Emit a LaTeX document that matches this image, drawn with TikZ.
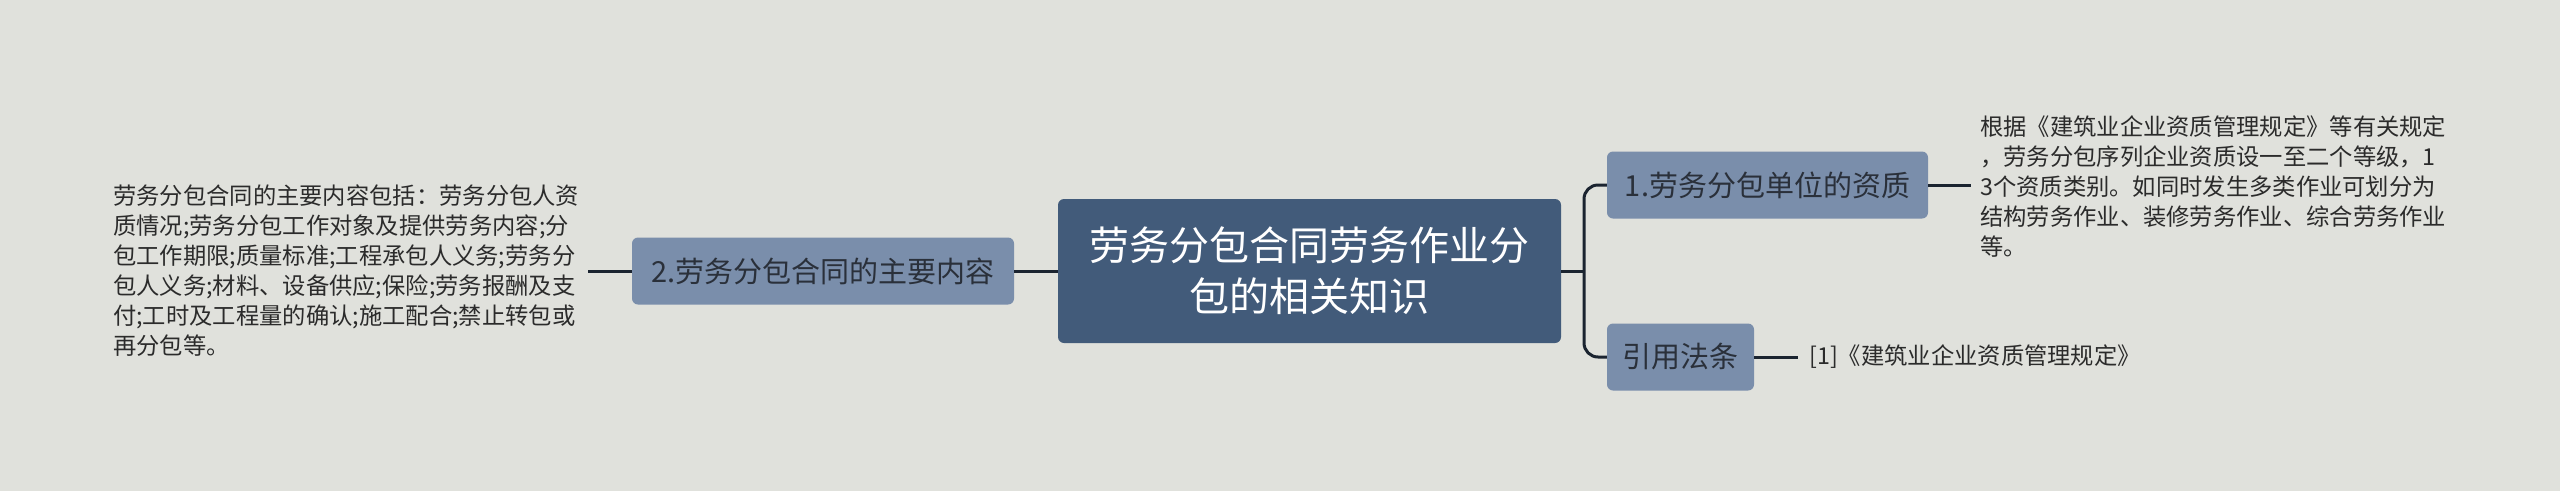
\documentclass[tikz,border=0pt]{standalone}
\usepackage{fontspec}
\newfontfamily\cjk{Noto Sans CJK SC}
\definecolor{bgc}{HTML}{E0E1DC}
\definecolor{rootc}{HTML}{425B7A}
\definecolor{subc}{HTML}{7A8EAB}
\definecolor{linec}{HTML}{1B2430}
\definecolor{txtc}{HTML}{2B2B2B}
\definecolor{subtxt}{HTML}{2A303A}
\tikzset{
  rootbox/.style={draw=none, fill=rootc, rounded corners=6pt, minimum width=503pt, minimum height=144pt, text=white, align=center, font=\cjk\fontsize{40}{51}\selectfont, inner sep=0pt},
  subbox/.style={draw=none, fill=subc, rounded corners=6pt, minimum height=67pt, text=subtxt, font=\cjk\fontsize{29}{36}\selectfont, inner sep=0pt},
  leaftext/.style={text=txtc, align=left, font=\cjk\fontsize{23.3}{30}\selectfont, inner sep=0pt},
  conn/.style={draw=linec, line width=3pt},
}
\begin{document}
\begin{tikzpicture}[x=1pt,y=-1pt]
\useasboundingbox[fill=bgc] (0,0) rectangle (2560,491);
\node[rootbox] (root) at (1309.5,271) {劳务分包合同劳务作业分\\包的相关知识};
\node[subbox, minimum width=382pt] (l) at (823,271) {2.劳务分包合同的主要内容};
\node[subbox, minimum width=321pt] (n1) at (1767.5,185) {1.劳务分包单位的资质};
\node[subbox, minimum width=147pt] (n2) at (1680.5,357) {引用法条};
\node[leaftext, anchor=west] (leafl) at (113,271) {劳务分包合同的主要内容包括：劳务分包人资\\质情况;劳务分包工作对象及提供劳务内容;分\\包工作期限;质量标准;工程承包人义务;劳务分\\包人义务;材料、设备供应;保险;劳务报酬及支\\付;工时及工程量的确认;施工配合;禁止转包或\\再分包等。};
\node[leaftext, anchor=west] (leafr) at (1980,187) {根据《建筑业企业资质管理规定》等有关规定\\，劳务分包序列企业资质设一至二个等级，1\\3个资质类别。如同时发生多类作业可划分为\\结构劳务作业、装修劳务作业、综合劳务作业\\等。};
\node[leaftext, anchor=west] (leaf2) at (1809,357) {[1]《建筑业企业资质管理规定》};
\coordinate (bx) at (1584,271);
\coordinate (le) at (588,271);
\draw[conn] (root.east) -- (bx);
\draw[conn, rounded corners=14pt] (n1.west) -- (n1.west -| bx) |- (n2.west);
\draw[conn] (root.west) -- (l.east);
\draw[conn] (l.west) -- (le);
\draw[conn] (n1.east) -- ([xshift=-9pt]leafr.west |- n1.east);
\draw[conn] (n2.east) -- ([xshift=-11pt]leaf2.west);
\end{tikzpicture}
\end{document}
